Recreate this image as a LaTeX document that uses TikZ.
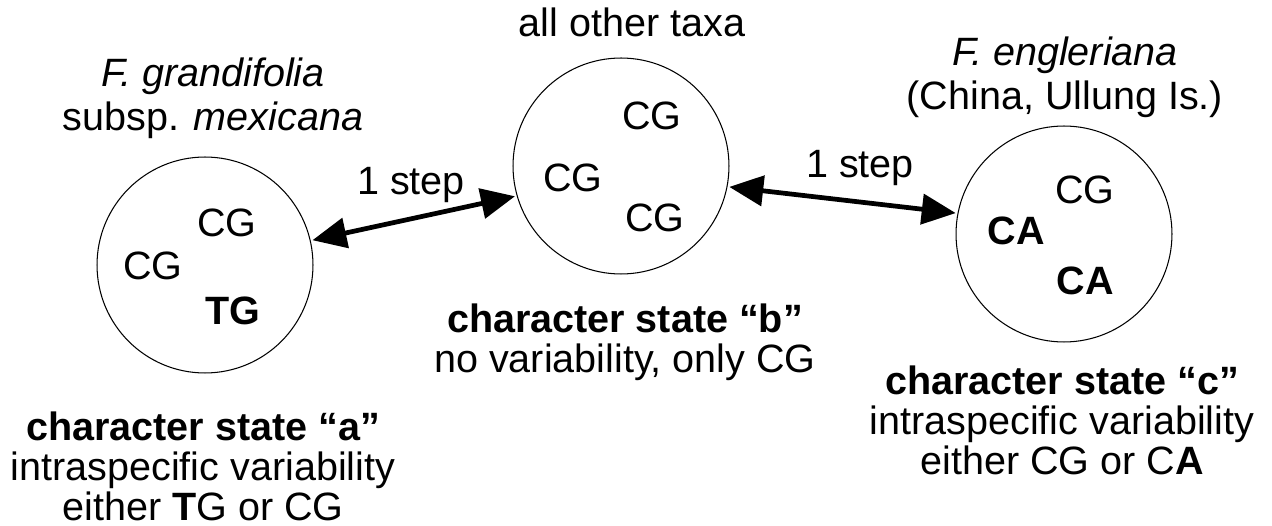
\documentclass[tikz,border=0pt]{standalone}
\usepackage{fontspec}
\setmainfont{Liberation Sans}
\usepackage{tikz}
\usetikzlibrary{arrows.meta,positioning}

\tikzset{
  taxon/.style={draw,circle,line width=0.6pt,minimum size=4.32cm,inner sep=0pt},
  lbl/.style={anchor=base,align=center,inner sep=0pt},
  steparrow/.style={{Triangle[length=0.68cm,width=0.6cm]}-{Triangle[length=0.68cm,width=0.6cm]},line width=2.7pt,shorten <=1pt,shorten >=1pt}
}

\begin{document}
\begin{tikzpicture}[x=0.02cm,y=-0.02cm,font=\fontsize{22.5}{22.8}\selectfont]
    \useasboundingbox (0,0) rectangle (1272,526);
    % Drei Zustaende als Kreise
    \node[taxon] (stA) at (205,265) {};
    \node[taxon] (stB) at (621,166) {};
    \node[taxon] (stC) at (1064,234) {};
    % Haplotypen innerhalb der Kreise
    \node[lbl] (a1) at (227,237) {CG};
    \node[lbl] (a2) at (153,280) {CG};
    \node[lbl] (a3) at (233,325) {\bfseries TG};
    \node[lbl] (b1) at (652,130) {CG};
    \node[lbl] (b2) at (573,192) {CG};
    \node[lbl] (b3) at (655,232) {CG};
    \node[lbl] (c1) at (1085,204) {CG};
    \node[lbl] (c2) at (1016,245) {\bfseries CA};
    \node[lbl] (c3) at (1085,295) {\bfseries CA};
    % Taxa ueber den Kreisen (base = letzte Zeile)
    \node[lbl] (taxA) at (213,131) {\itshape F. grandifolia\\[2.5pt] subsp. \textit{mexicana}};
    \node[lbl] (taxB) at (632,37) {all other taxa};
    \node[lbl] (taxC) at (1065,110) {\itshape F. engleriana\\[2.5pt] (China, Ullung Is.)};
    % Beschreibung der Merkmalszustaende
    \node[lbl] (descA) at (203,521) {\bfseries character state “a”\\ intraspecific variability\\ either \textbf{T}G or CG};
    \node[lbl] (descB) at (625,373) {\bfseries character state “b”\\ no variability, only CG};
    \node[lbl] (descC) at (1062,475) {\bfseries character state “c”\\ intraspecific variability\\ either CG or C\textbf{A}};
    % Schritte zwischen den Zustaenden
    \draw[steparrow] (stA.13) -- (stB.196);
    \draw[steparrow] (stB.349) -- (stC.169);
    \node[lbl] (stepAB) at (411,195) {1 step};
    \node[lbl] (stepBC) at (860,178) {1 step};
\end{tikzpicture}
\end{document}
